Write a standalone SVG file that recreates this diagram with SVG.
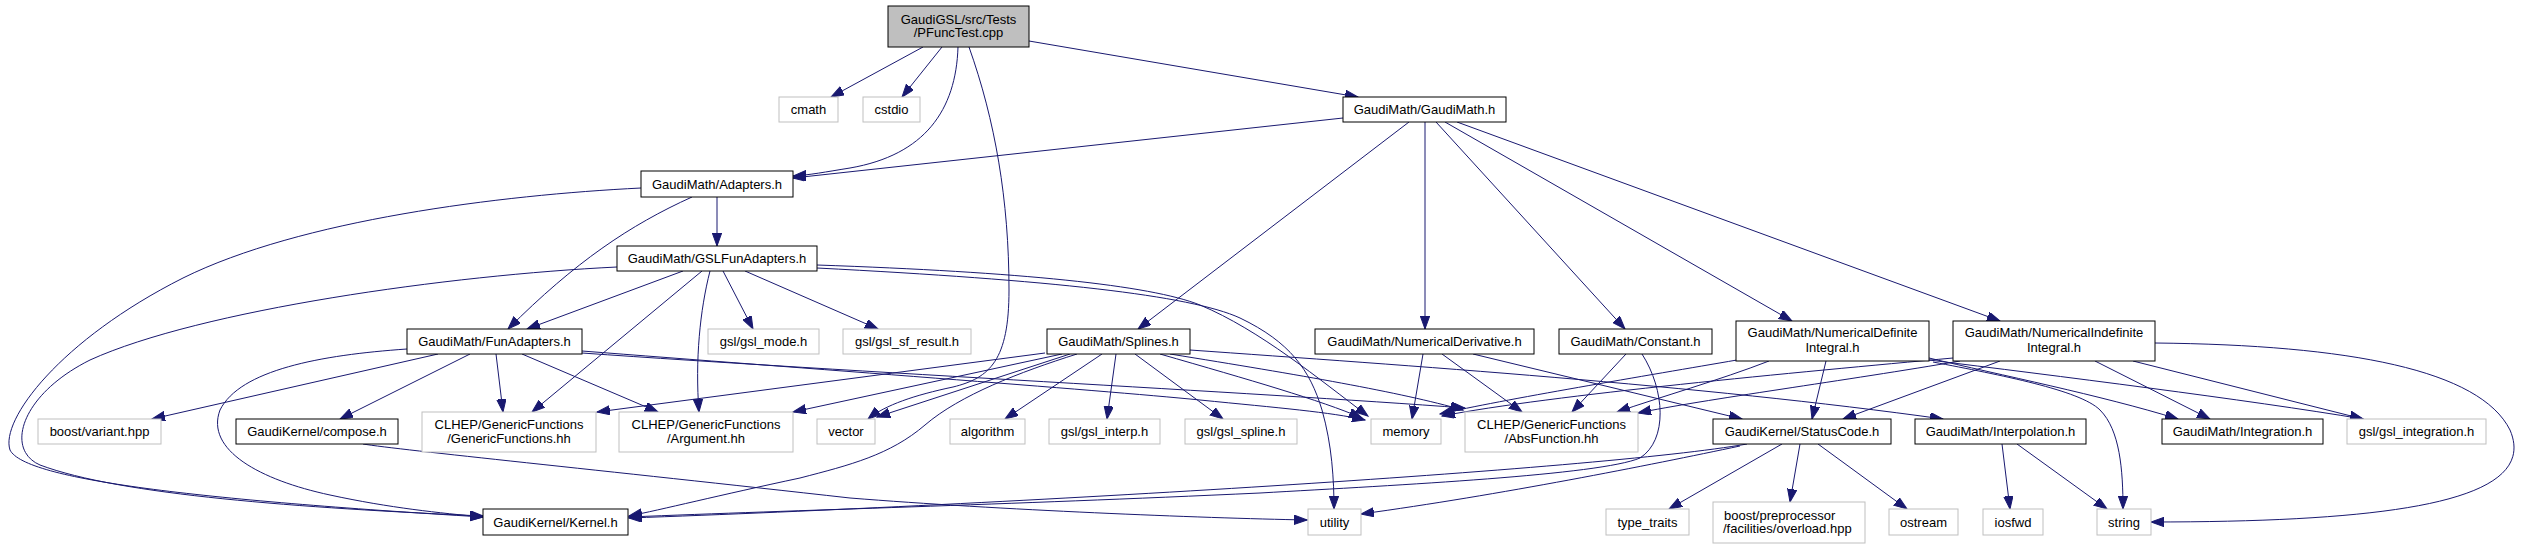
<svg xmlns="http://www.w3.org/2000/svg" width="2521" height="549" viewBox="0 0 2521 549">
<style>
.n rect{fill:#fff;stroke:#000;stroke-width:1}
.x rect{fill:#fff;stroke:#bfbfbf;stroke-width:1}
.r rect{fill:#bfbfbf;stroke:#000;stroke-width:1}
text{font-family:"Liberation Sans",Arial,sans-serif;font-size:13px;text-anchor:middle;fill:#000}
.l text{text-anchor:start}
#edges path{fill:none;stroke:#191970;stroke-width:1;marker-end:url(#a)}
</style>
<defs>
<marker id="a" markerUnits="userSpaceOnUse" markerWidth="14" markerHeight="10" refX="13" refY="4.7" orient="auto">
<path d="M0,0 L13,4.7 L0,9.4 z" fill="#191970" stroke="#191970" stroke-width="1"/>
</marker>
</defs>
<rect width="2521" height="549" fill="#fff"/>
<g id="edges">
<path d="M923,47 L831,97"/>
<path d="M942,47 L902,97"/>
<path d="M958,47 C956,110 925,155 850,168 C825,172 810,175 793,176"/>
<path d="M969,47 C995,120 1009,200 1009,290 C1009,360 990,378 953,387 C915,395 885,405 868,419"/>
<path d="M1029,41 L1358,97"/>
<path d="M1343,118 L793,178"/>
<path d="M1409,122 L1138,329"/>
<path d="M1425,122 L1425,329"/>
<path d="M1436,122 L1625,329"/>
<path d="M1445,122 L1792,321"/>
<path d="M1457,122 L2000,321"/>
<path d="M717,197 L717,246"/>
<path d="M692,197 C630,225 575,262 508,329"/>
<path d="M641,188 C500,195 300,220 183,278 C60,340 0,420 10,450 C25,480 200,500 483,517"/>
<path d="M617,267 C450,275 200,310 90,360 C20,395 5,450 40,465 C120,495 300,508 483,516"/>
<path d="M683,271 L527,329"/>
<path d="M702,271 L532,412"/>
<path d="M710,271 C700,310 695,360 699,412"/>
<path d="M723,271 L753,329"/>
<path d="M745,271 L878,329"/>
<path d="M817,265 C1020,272 1150,285 1200,305 C1260,330 1320,380 1368,416"/>
<path d="M817,268 C1050,280 1190,295 1240,318 C1290,342 1310,370 1322,410 C1332,445 1334,480 1334,509"/>
<path d="M438,354 L152,419"/>
<path d="M470,354 L340,419"/>
<path d="M407,349 C320,355 240,370 220,410 C205,450 260,480 330,495 C390,508 440,513 483,517"/>
<path d="M496,354 L503,412"/>
<path d="M522,354 L658,412"/>
<path d="M582,351 C800,368 1100,390 1200,400 C1280,408 1330,412 1365,420"/>
<path d="M582,353 C850,372 1250,392 1465,408"/>
<path d="M1045,353 L597,412"/>
<path d="M1062,354 L793,412"/>
<path d="M1070,354 L877,417"/>
<path d="M1077,354 C1020,372 960,395 925,425 C890,455 850,465 800,478 C720,495 660,510 629,516"/>
<path d="M1102,354 L1005,419"/>
<path d="M1116,354 L1107,419"/>
<path d="M1135,354 L1223,419"/>
<path d="M1190,350 C1400,365 1700,385 1943,419"/>
<path d="M1160,354 C1250,380 1320,400 1362,418"/>
<path d="M1170,354 C1300,375 1400,392 1463,410"/>
<path d="M1423,354 L1412,419"/>
<path d="M1442,354 L1522,412"/>
<path d="M1473,354 L1742,419"/>
<path d="M1626,354 L1572,412"/>
<path d="M1642,354 C1665,390 1668,440 1640,458 C1600,475 1400,485 1260,493 C1000,505 800,510 629,517"/>
<path d="M1737,360 C1650,375 1500,400 1440,414"/>
<path d="M1769,361 C1720,380 1660,397 1617,412"/>
<path d="M1826,361 L1812,419"/>
<path d="M1929,358 C2000,375 2100,395 2178,419"/>
<path d="M1929,360 C2050,375 2250,400 2363,419"/>
<path d="M1933,362 C2000,375 2080,390 2100,410 C2120,430 2123,470 2123,509"/>
<path d="M1953,358 C1800,372 1550,395 1442,416"/>
<path d="M1960,361 C1850,380 1700,400 1638,413"/>
<path d="M2000,361 L1843,419"/>
<path d="M2095,361 L2210,419"/>
<path d="M2133,361 L2363,419"/>
<path d="M2155,343 C2350,345 2480,370 2510,430 C2540,500 2400,522 2151,522"/>
<path d="M1747,444 C1600,470 1000,505 629,518"/>
<path d="M1740,446 C1650,465 1500,495 1361,514"/>
<path d="M1782,444 L1669,509"/>
<path d="M1800,444 L1790,502"/>
<path d="M1818,444 L1907,509"/>
<path d="M2002,444 L2010,509"/>
<path d="M2017,444 L2107,509"/>
<path d="M363,444 C400,450 600,470 850,498 C1000,510 1200,518 1307,520"/>
</g>
<g id="n_root" class="r"><rect x="888" y="6" width="141" height="41"/><text x="958.5" y="23.5">GaudiGSL/src/Tests</text><text x="958.5" y="37">/PFuncTest.cpp</text></g>
<g id="n_cmath" class="x"><rect x="779" y="97" width="59" height="25"/><text x="808.5" y="113.5">cmath</text></g>
<g id="n_cstdio" class="x"><rect x="863" y="97" width="57" height="25"/><text x="891.5" y="113.5">cstdio</text></g>
<g id="n_gaudimath" class="n"><rect x="1343" y="97" width="163" height="25"/><text x="1424.5" y="113.5">GaudiMath/GaudiMath.h</text></g>
<g id="n_adapters" class="n"><rect x="641" y="171" width="152" height="26"/><text x="717" y="188.5">GaudiMath/Adapters.h</text></g>
<g id="n_gslfun" class="n"><rect x="617" y="246" width="200" height="25"/><text x="717" y="262.5">GaudiMath/GSLFunAdapters.h</text></g>
<g id="n_funadapters" class="n"><rect x="407" y="329" width="175" height="25"/><text x="494.5" y="345.5">GaudiMath/FunAdapters.h</text></g>
<g id="n_gslmode" class="x"><rect x="708" y="329" width="111" height="25"/><text x="763.5" y="345.5">gsl/gsl_mode.h</text></g>
<g id="n_gslsf" class="x"><rect x="843" y="329" width="128" height="25"/><text x="907" y="345.5">gsl/gsl_sf_result.h</text></g>
<g id="n_splines" class="n"><rect x="1047" y="329" width="143" height="25"/><text x="1118.5" y="345.5">GaudiMath/Splines.h</text></g>
<g id="n_numderiv" class="n"><rect x="1315" y="329" width="219" height="25"/><text x="1424.5" y="345.5">GaudiMath/NumericalDerivative.h</text></g>
<g id="n_constant" class="n"><rect x="1559" y="329" width="153" height="25"/><text x="1635.5" y="345.5">GaudiMath/Constant.h</text></g>
<g id="n_numdef" class="n"><rect x="1736" y="321" width="193" height="40"/><text x="1832.5" y="337">GaudiMath/NumericalDefinite</text><text x="1832.5" y="351.5">Integral.h</text></g>
<g id="n_numindef" class="n"><rect x="1953" y="321" width="202" height="40"/><text x="2054" y="337">GaudiMath/NumericalIndefinite</text><text x="2054" y="351.5">Integral.h</text></g>
<g id="n_boostvariant" class="x"><rect x="38" y="419" width="123" height="25"/><text x="99.5" y="435.5">boost/variant.hpp</text></g>
<g id="n_compose" class="n"><rect x="236" y="419" width="162" height="25"/><text x="317" y="435.5">GaudiKernel/compose.h</text></g>
<g id="n_genfun" class="x"><rect x="422" y="412" width="174" height="40"/><text x="509" y="428.5">CLHEP/GenericFunctions</text><text x="509" y="442.5">/GenericFunctions.hh</text></g>
<g id="n_argument" class="x"><rect x="619" y="412" width="174" height="40"/><text x="706" y="428.5">CLHEP/GenericFunctions</text><text x="706" y="442.5">/Argument.hh</text></g>
<g id="n_vector" class="x"><rect x="817" y="419" width="58" height="25"/><text x="846" y="435.5">vector</text></g>
<g id="n_algorithm" class="x"><rect x="950" y="419" width="75" height="25"/><text x="987.5" y="435.5">algorithm</text></g>
<g id="n_gslinterp" class="x"><rect x="1049" y="419" width="111" height="25"/><text x="1104.5" y="435.5">gsl/gsl_interp.h</text></g>
<g id="n_gslspline" class="x"><rect x="1185" y="419" width="112" height="25"/><text x="1241" y="435.5">gsl/gsl_spline.h</text></g>
<g id="n_memory" class="x"><rect x="1371" y="419" width="70" height="25"/><text x="1406" y="435.5">memory</text></g>
<g id="n_absfun" class="x"><rect x="1465" y="412" width="173" height="40"/><text x="1551.5" y="428.5">CLHEP/GenericFunctions</text><text x="1551.5" y="442.5">/AbsFunction.hh</text></g>
<g id="n_statuscode" class="n"><rect x="1713" y="419" width="178" height="25"/><text x="1802" y="435.5">GaudiKernel/StatusCode.h</text></g>
<g id="n_interp" class="n"><rect x="1915" y="419" width="171" height="25"/><text x="2000.5" y="435.5">GaudiMath/Interpolation.h</text></g>
<g id="n_integration" class="n"><rect x="2162" y="419" width="161" height="25"/><text x="2242.5" y="435.5">GaudiMath/Integration.h</text></g>
<g id="n_gslinteg" class="x"><rect x="2347" y="419" width="139" height="25"/><text x="2416.5" y="435.5">gsl/gsl_integration.h</text></g>
<g id="n_kernel" class="n"><rect x="483" y="509" width="145" height="26"/><text x="555.5" y="526.5">GaudiKernel/Kernel.h</text></g>
<g id="n_utility" class="x"><rect x="1308" y="509" width="53" height="26"/><text x="1334.5" y="526.5">utility</text></g>
<g id="n_typetraits" class="x"><rect x="1606" y="509" width="83" height="26"/><text x="1647.5" y="526.5">type_traits</text></g>
<g id="n_boostpp" class="x l"><rect x="1713" y="502" width="152" height="41"/><text x="1724" y="519.5">boost/preprocessor</text><text x="1723" y="533">/facilities/overload.hpp</text></g>
<g id="n_ostream" class="x"><rect x="1889" y="509" width="69" height="26"/><text x="1923.5" y="526.5">ostream</text></g>
<g id="n_iosfwd" class="x"><rect x="1983" y="509" width="60" height="26"/><text x="2013" y="526.5">iosfwd</text></g>
<g id="n_string" class="x"><rect x="2097" y="509" width="54" height="26"/><text x="2124" y="526.5">string</text></g>
</svg>
